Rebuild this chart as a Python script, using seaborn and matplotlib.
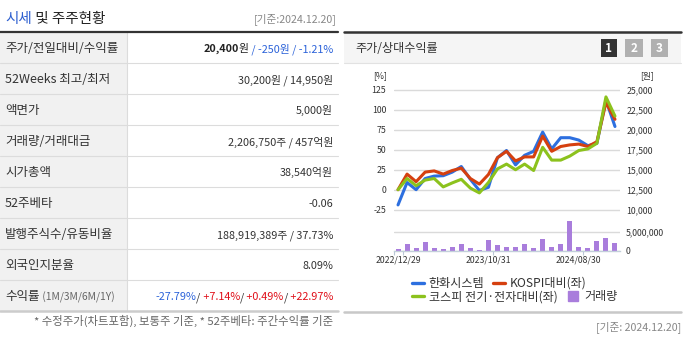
import matplotlib
matplotlib.use('Agg')
import matplotlib.pyplot as plt
import seaborn as sns
from matplotlib.patches import Rectangle
from matplotlib.lines import Line2D
from matplotlib.ticker import FixedLocator, FuncFormatter

# ---------------- data ----------------
dates = ['2022/12/29', '2023/01/31', '2023/02/28', '2023/03/31', '2023/04/28',
         '2023/05/31', '2023/06/30', '2023/07/31', '2023/08/31', '2023/09/27',
         '2023/10/31', '2023/11/30', '2023/12/28', '2024/01/31', '2024/02/29',
         '2024/03/29', '2024/04/30', '2024/05/31', '2024/06/28', '2024/07/31',
         '2024/08/30', '2024/09/30', '2024/10/31', '2024/11/29', '2024/12/20']
hanwha = [-19, 9, 0, 14, 17, 17.5, 22, 29, 13, -1, 3, 40, 49, 31, 43, 48,
          72, 51, 65, 65, 62, 55, 58, 112, 79]
kospi_rel = [0, 19.5, 10, 22, 23.5, 19.5, 24, 27, 14, 7, 19, 40, 48, 36, 41, 41,
             67, 48, 54, 56, 57, 54, 60, 109, 88]
elec_rel = [0, 14, 5, 12, 14, 3.5, 8.5, 13, 2, -4, 9, 26, 32, 25, 32, 24,
            53, 37, 37, 42, 49, 51, 58, 116, 92]
volume = [550000, 1800000, 800000, 2400000, 800000, 450000, 1100000, 1800000,
          800000, 270000, 2900000, 1550000, 1100000, 1100000, 1800000, 800000,
          3200000, 1100000, 1800000, 8100000, 1100000, 800000, 2600000,
          3450000, 2100000]

series_names = ['한화시스템', 'KOSPI대비(좌)', '코스피 전기·전자대비(좌)', '거래량']
pct_ticks = [-25, 0, 25, 50, 75, 100, 125]
price_ticks = [10000, 12500, 15000, 17500, 20000, 22500, 25000]
vol_ticks = [0, 5000000]
xtick_idx = [0, 10, 20]

row_labels = ['주가/전일대비/수익률', '52Weeks 최고/최저', '액면가', '거래량/거래대금',
              '시가총액', '52주베타', '발행주식수/유동비율', '외국인지분율', '수익률']
row_values = [
    [('20,400', '#222222', 'bold'), ('원', '#222222', 'normal'),
     (' / -250원 / -1.21%', '#2b62d9', 'normal')],
    [('30,200원 / 14,950원', '#333333', 'normal')],
    [('5,000원', '#333333', 'normal')],
    [('2,206,750주 / 457억원', '#333333', 'normal')],
    [('38,540억원', '#333333', 'normal')],
    [('-0.06', '#333333', 'normal')],
    [('188,919,389주 / 37.73%', '#333333', 'normal')],
    [('8.09%', '#333333', 'normal')],
    [('-27.79%', '#2b62d9', 'normal'), ('/', '#333333', 'normal'),
     (' +7.14%', '#e0101a', 'normal'), ('/', '#333333', 'normal'),
     (' +0.49%', '#e0101a', 'normal'), ('/', '#333333', 'normal'),
     (' +22.97%', '#e0101a', 'normal')],
]

C_BLUE, C_RED, C_GREEN, C_PURPLE = '#2d6fdf', '#d5400f', '#8cc21d', '#a97ddc'

# ---------------- setup ----------------
sns.set_theme(style='white')
plt.rcParams['font.family'] = ['Noto Sans CJK KR', 'DejaVu Sans']
plt.rcParams['axes.unicode_minus'] = False

W, H = 688, 337
fig = plt.figure(figsize=(W / 100, H / 100), dpi=100)
bg = fig.add_axes([0, 0, 1, 1], zorder=0)
bg.set_xlim(0, W)
bg.set_ylim(H, 0)
bg.axis('off')
renderer = fig.canvas.get_renderer()


def runs_right(xr, y, runs, size):
    x = xr
    for s, c, w in reversed(runs):
        t = bg.text(x, y, s, ha='right', va='baseline', color=c,
                    fontweight=w, fontsize=size)
        x -= t.get_window_extent(renderer).width


def runs_left(xl, y, runs):
    x = xl
    for s, c, size in runs:
        t = bg.text(x, y, s, ha='left', va='baseline', color=c, fontsize=size)
        x += t.get_window_extent(renderer).width


# ---------------- left table ----------------
runs_left(5, 23, [('시세', '#2d5fd0', 10.5), (' 및 주주현황', '#222222', 10.5)])
bg.text(337, 22, '[기준:2024.12.20]', ha='right', va='baseline',
        color='#888888', fontsize=7.7)

top, rh, n = 32.3, 31.0, len(row_labels)
bg.add_patch(Rectangle((0, top), 127, rh * n, fc='#f1f1f1', ec='none'))
for k in range(1, n):
    bg.plot([0, 338], [top + rh * k] * 2, color='#dcdcdc', lw=0.8)
bg.plot([127, 127], [top, top + rh * n], color='#dcdcdc', lw=0.8)
bg.plot([0, 338], [top, top], color='#333333', lw=1.6)
bg.plot([0, 338], [top + rh * n] * 2, color='#cccccc', lw=1.8)

for k, (lab, vals) in enumerate(zip(row_labels, row_values)):
    yb = top + rh * k + rh / 2 + 4.4
    if k == n - 1:
        runs_left(5, yb, [(lab, '#333333', 9.0),
                          (' (1M/3M/6M/1Y)', '#666666', 7.4)])
    else:
        bg.text(5, yb, lab, ha='left', va='baseline', color='#333333',
                fontsize=9.0)
    runs_right(333, yb, vals, 7.8)

bg.text(333, 325, '* 수정주가(차트포함), 보통주 기준, * 52주베타: 주간수익률 기준',
        ha='right', va='baseline', color='#666666', fontsize=8.2)

# ---------------- right panel frame ----------------
bg.add_patch(Rectangle((344, 32), 337, 31, fc='#f5f5f5', ec='none'))
bg.plot([344, 681], [32, 32], color='#333333', lw=1.8)
bg.plot([344, 681], [63.3, 63.3], color='#e2e2e2', lw=0.8)
bg.plot([344, 681], [312.3, 312.3], color='#c8c8c8', lw=1.8)
bg.text(355, 52, '주가/상대수익률', ha='left', va='baseline', color='#333333',
        fontsize=8.7)
for i, (bx, bw, fc) in enumerate([(600.7, 16, '#333333'), (625, 17.5, '#b0b0b0'),
                                  (651, 17.3, '#b0b0b0')]):
    bg.add_patch(Rectangle((bx, 39.3), bw, 17.4, fc=fc, ec='none'))
    bg.text(bx + bw / 2, 48.3, str(i + 1), ha='center', va='center',
            color='white', fontsize=8.5, fontweight='bold')
bg.text(386.5, 78, '[%]', ha='right', va='baseline', color='#333333', fontsize=6.3)
bg.text(640, 78, '[원]', ha='left', va='baseline', color='#333333', fontsize=6.3)
bg.text(681, 330, '[기준: 2024.12.20]', ha='right', va='baseline',
        color='#888888', fontsize=7.7)

# ---------------- chart ----------------
x0, x1 = 393.5, 619.5
yb_px, yt_px = 250.7, 85.0
rect = [x0 / W, 1 - yb_px / H, (x1 - x0) / W, (yb_px - yt_px) / H]
pct_lim = (-76.25, 130.875)
base_price, won_per_pct = 12500, 100
idx = list(range(len(dates)))

axv = fig.add_axes(rect, zorder=1)
ax = fig.add_axes(rect, zorder=2)
axp = fig.add_axes(rect, zorder=3)
for a in (ax, axv, axp):
    a.patch.set_visible(False)
    for s in a.spines.values():
        s.set_visible(False)

# volume bars (categorical positions 0..n-1)
sns.barplot(x=dates, y=volume, ax=axv, color=C_PURPLE, saturation=1,
            width=0.55, order=dates, edgecolor='none', linewidth=0)
axv.set_xlim(-0.5, len(dates) - 0.5)
axv.set_ylim(0, 45e6)
axv.yaxis.tick_right()
axv.set_yticks(vol_ticks)
axv.yaxis.set_major_formatter(FuncFormatter(lambda v, p: f'{v:,.0f}'))
axv.tick_params(axis='y', length=0, pad=4.5, labelsize=6.3, labelcolor='#333333')
axv.grid(axis='y', color='#dadada', lw=1.0)
axv.grid(axis='x', visible=False)
axv.xaxis.set_visible(False)
axv.set_xlabel('')
axv.set_ylabel('')

# relative return lines
l1 = sns.lineplot(x=idx, y=hanwha, ax=ax, color=C_BLUE, lw=2.2).lines[-1]
l2 = sns.lineplot(x=idx, y=kospi_rel, ax=ax, color=C_RED, lw=2.2).lines[-1]
l3 = sns.lineplot(x=idx, y=elec_rel, ax=ax, color=C_GREEN, lw=2.2).lines[-1]
ax.set_ylim(*pct_lim)
ax.set_xlim(-0.5, len(dates) - 0.5)
ax.set_yticks(pct_ticks)
ax.grid(axis='y', color='#dadada', lw=1.0)
ax.grid(axis='x', visible=False)
ax.tick_params(axis='y', length=0, pad=5.2, labelsize=6.3, labelcolor='#333333')
ax.xaxis.set_major_locator(FixedLocator(xtick_idx))
ax.set_xticklabels([dates[i] for i in xtick_idx])
ax.xaxis.set_minor_locator(FixedLocator([-0.5] + [i + 0.5 for i in xtick_idx]))
ax.tick_params(axis='x', which='major', length=0, pad=3.5, labelsize=6.3,
               labelcolor='#333333')
ax.tick_params(axis='x', which='minor', length=3, width=0.8, color='#b9c7d5',
               direction='out', bottom=True)
ax.spines['bottom'].set_visible(True)
ax.spines['bottom'].set_color('#c3cfdb')
ax.spines['bottom'].set_linewidth(1.0)
ax.set_xlabel('')
ax.set_ylabel('')

# price axis (right)
axp.set_xlim(-0.5, len(dates) - 0.5)
axp.set_ylim(base_price + won_per_pct * pct_lim[0], base_price + won_per_pct * pct_lim[1])
axp.yaxis.tick_right()
axp.set_yticks(price_ticks)
axp.yaxis.set_major_formatter(FuncFormatter(lambda v, p: f'{v:,.0f}'))
axp.tick_params(axis='y', length=0, pad=5.0, labelsize=6.3, labelcolor='#333333')
axp.xaxis.set_visible(False)

# ---------------- legends ----------------
sq = Line2D([0], [0], marker='s', ms=7.3, color=C_PURPLE, ls='none')
common = dict(loc='center left', frameon=False, fontsize=8.7, handlelength=1.0,
              handletextpad=0.4, borderpad=0, borderaxespad=0, ncol=2,
              labelcolor='#333333')
leg1 = fig.legend([l1, l2], series_names[:2],
                  bbox_to_anchor=(411.7 / W, 1 - 283.3 / H), columnspacing=0.7,
                  **common)
leg2 = fig.legend([l3, sq], series_names[2:],
                  bbox_to_anchor=(411.7 / W, 1 - 296.9 / H), columnspacing=0.8,
                  **common)
for lg in (leg1, leg2):
    for h in lg.legend_handles:
        if h.get_linestyle() != 'None':
            h.set_linewidth(2.4)

fig.savefig('out.png', dpi=100)
